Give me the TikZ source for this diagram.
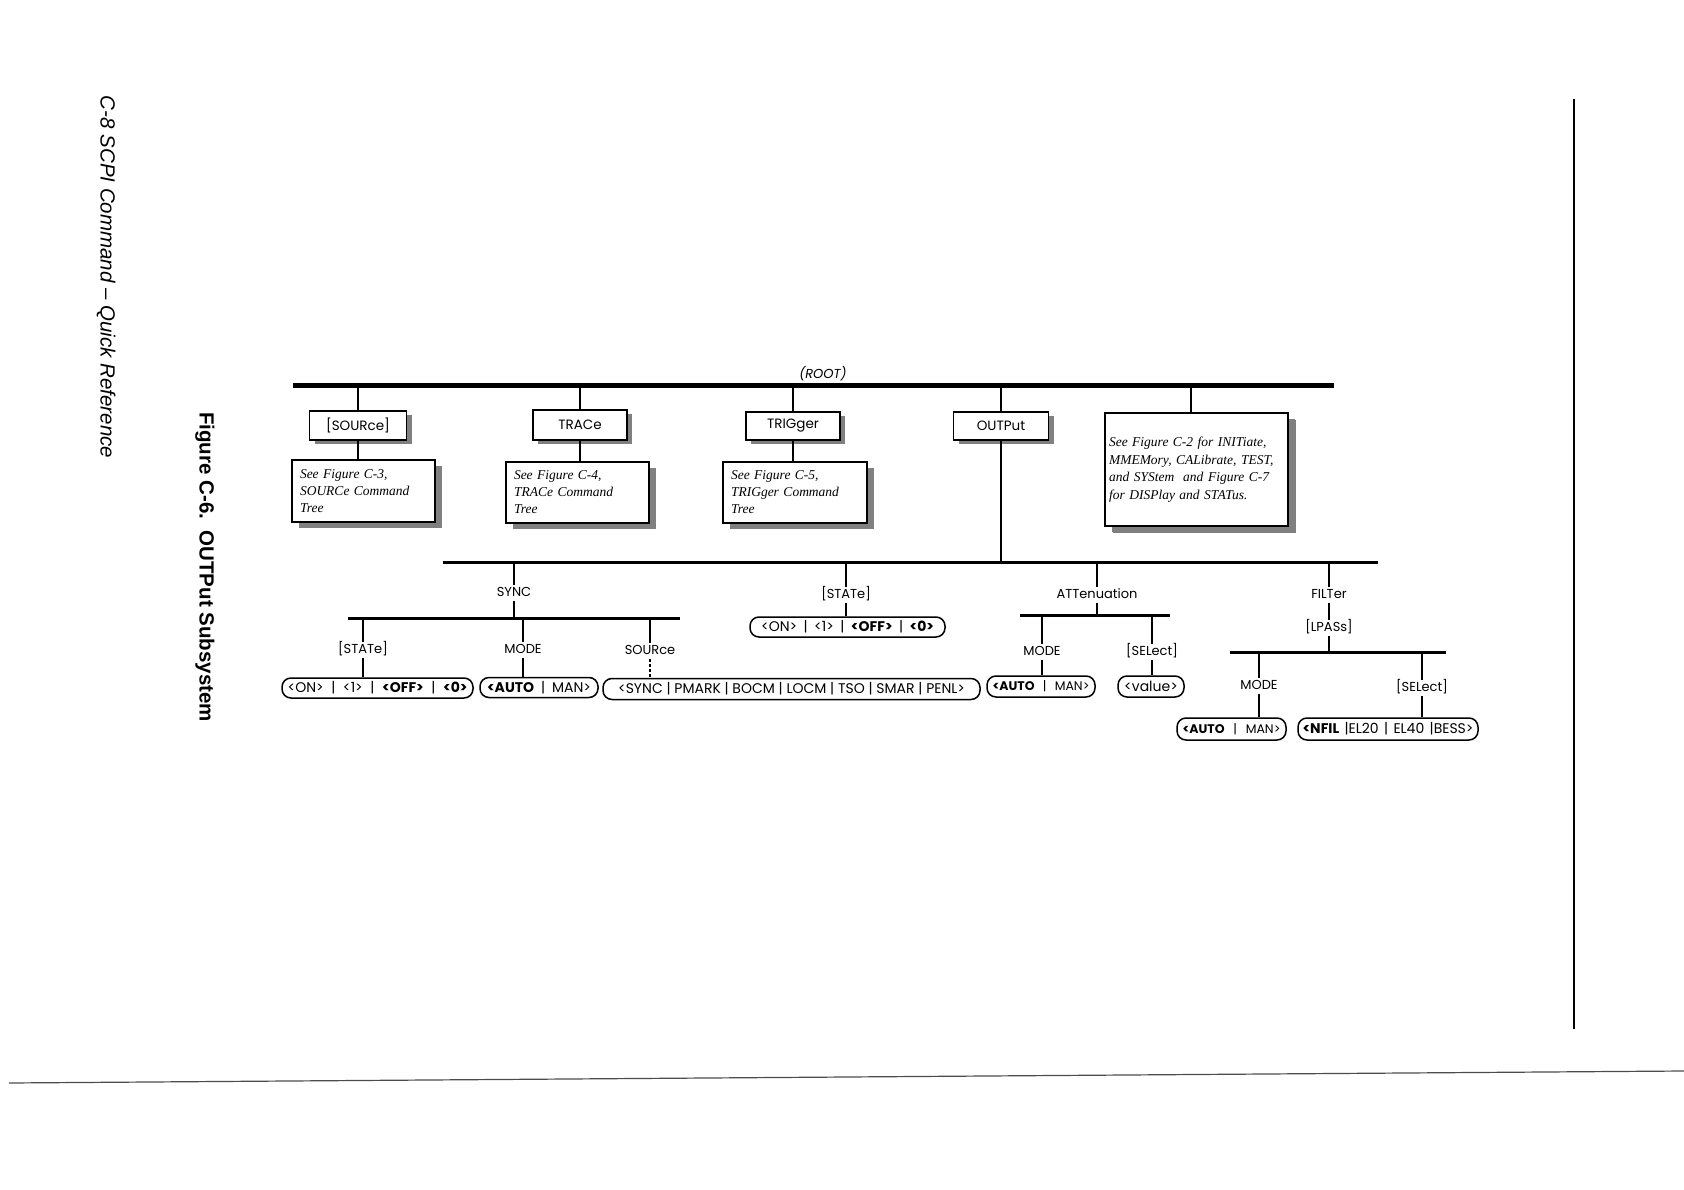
\documentclass[tikz,border=0pt]{standalone}
\usepackage{fontspec}
\setmainfont{Poppins}
\newfontfamily\itserif{Liberation Serif}
\newfontfamily\helv{Liberation Sans}
\usetikzlibrary{shadows}
\begin{document}
\begin{tikzpicture}[x=1pt,y=-1pt,
  lbl/.style={font=\fontsize{13}{15}\selectfont, inner sep=2pt, text height=9.5pt, text depth=2.5pt},
  cmdbox/.style={draw, line width=1.5pt, fill=white, font=\fontsize{13.5}{16}\selectfont, inner sep=0pt,
     drop shadow={shadow xshift=5pt, shadow yshift=-4pt, fill=black!50, opacity=1}},
  notebox/.style={draw, line width=1.5pt, fill=white, font=\itserif\itshape\fontsize{13.5}{17}\selectfont,
     align=left, inner sep=0pt,
     drop shadow={shadow xshift=7pt, shadow yshift=-6pt, fill=black!50, opacity=1}},
  pill/.style={draw, line width=1.5pt, rounded corners=9pt, inner sep=0pt, font=\fontsize{14}{16}\selectfont},
  smallpill/.style={pill, font=\fontsize{12.5}{15}\selectfont},
  conn/.style={line width=2.8pt},
  bar/.style={line width=3pt},
  rootbar/.style={line width=5pt},
]
\useasboundingbox[fill=white] (0,0) rectangle (1684,1190);

% page decorations
\node[font=\helv\itshape\fontsize{20.5}{24}\selectfont, rotate=-90] (hdr) at (106,277) {C-8 SCPI Command – Quick Reference};
\node[font=\helv\bfseries\fontsize{20.5}{24}\selectfont, rotate=-90] (cap) at (205,567) {Figure C-6.\ \ OUTPut Subsystem};
\draw[line width=2pt] (1574,99) -- (1574,1029);
\draw[line width=1.2pt, black!70] (9,1083) -- (1684,1071);

% root
\coordinate (rootL) at (293,385);
\coordinate (rootR) at (1334,385);
\draw[rootbar] (rootL) -- (rootR);
\node[font=\itshape\fontsize{13}{15}\selectfont, inner sep=1pt] (root) at (823,374) {(ROOT)};

% top level boxes
\node[cmdbox, minimum width=97pt, minimum height=29pt] (src) at (358,425.5) {[SOURce]};
\node[notebox, minimum width=143pt, minimum height=62pt, text width=127pt] (c3) at (363.5,491) {See Figure C-3,\\SOURCe Command\\Tree};
\node[cmdbox, minimum width=94pt, minimum height=30pt] (trc) at (580,425) {TRACe};
\node[notebox, minimum width=143pt, minimum height=61pt, text width=127pt] (c4) at (577.5,492.5) {See Figure C-4,\\TRACe Command\\Tree};
\node[cmdbox, minimum width=94pt, minimum height=28pt] (trg) at (793,426) {TRIGger};
\node[notebox, minimum width=144pt, minimum height=61pt, text width=128pt] (c5) at (795,492.5) {See Figure C-5,\\TRIGger Command\\Tree};
\node[cmdbox, minimum width=95pt, minimum height=28pt] (outp) at (1001,426) {OUTPut};
\node[notebox, font=\itserif\itshape\fontsize{13.5}{17.5}\selectfont, minimum width=183pt, minimum height=113pt, text width=175pt,
      drop shadow={shadow xshift=8pt, shadow yshift=-7pt, fill=black!50, opacity=1}] (big) at (1196.5,469.5)
  {See Figure C-2 for INITiate,\\MMEMory, CALibrate, TEST,\\and SYStem\ \ and Figure C-7\\for DISPlay and STATus.};

\draw[conn] (src.north |- rootL) -- (src.north);
\draw[conn] (src.south) -- (src.south |- c3.north);
\draw[conn] (trc.north |- rootL) -- (trc.north);
\draw[conn] (trc.south) -- (trc.south |- c4.north);
\draw[conn] (trg.north |- rootL) -- (trg.north);
\draw[conn] (trg.south) -- (trg.south |- c5.north);
\draw[conn] (outp.north |- rootL) -- (outp.north);
\draw[conn] ([xshift=-5.5pt]big.north |- rootL) -- ([xshift=-5.5pt]big.north);

% OUTPut bar
\coordinate (obL) at (443,562);
\coordinate (obR) at (1378,562);
\draw[bar] (obL) -- (obR);
\draw[conn] (outp.south) -- (outp.south |- obL);

% SYNC
\node[lbl] (sync) at (514,593) {SYNC};
\coordinate (sbL) at (348,618);
\coordinate (sbR) at (680,618);
\draw[bar] (sbL) -- (sbR);
\draw[conn] (sync.north |- obL) -- (sync.north);
\draw[conn] (sync.south) -- (sync.south |- sbL);

\node[lbl] (sst) at (363,650) {[STATe]};
\node[lbl] (smode) at (523,650) {MODE};
\node[lbl] (ssrc) at (650,651) {SOURce};
\draw[conn] (sst.north |- sbL) -- (sst.north);
\draw[conn] (smode.north |- sbL) -- (smode.north);
\draw[conn] (ssrc.north |- sbL) -- (ssrc.north);

\node[pill, minimum width=191pt, minimum height=20pt] (p1) at (377.5,688)
  {\hbox to 180pt{<ON>\hfil|\hfil<1>\hfil|\hfil\textbf{<OFF>}\hfil|\hfil\textbf{<0>}}};
\node[pill, minimum width=118pt, minimum height=20pt] (p2) at (539,687.5)
  {\hbox to 104pt{\textbf{<AUTO}\hfil|\hfil MAN>}};
\node[pill, minimum width=377pt, minimum height=21pt] (p3) at (791.5,689)
  {\hbox to 347pt{<SYNC\hfil|\hfil PMARK\hfil|\hfil BOCM\hfil|\hfil LOCM\hfil|\hfil TSO\hfil|\hfil SMAR\hfil|\hfil PENL>}};
\draw[conn] (sst.south) -- (sst.south |- p1.north);
\draw[conn] (smode.south) -- (smode.south |- p2.north);
\draw[line width=2pt, densely dashed] (ssrc.south) -- (ssrc.south |- p3.north);

% OUTPut STATe
\node[lbl] (ost) at (846,595) {[STATe]};
\node[pill, minimum width=195pt, minimum height=20pt] (p4) at (847.5,627)
  {\hbox to 173pt{<ON>\hfil|\hfil<1>\hfil|\hfil\textbf{<OFF>}\hfil|\hfil\textbf{<0>}}};
\draw[conn] (ost.north |- obL) -- (ost.north);
\draw[conn] (ost.south) -- (ost.south |- p4.north);

% ATTenuation
\node[lbl] (att) at (1097,595) {ATTenuation};
\coordinate (abL) at (1020,615);
\coordinate (abR) at (1170,615);
\draw[bar] (abL) -- (abR);
\draw[conn] (att.north |- obL) -- (att.north);
\draw[conn] (att.south) -- (att.south |- abL);
\node[lbl] (amode) at (1042,652) {MODE};
\node[lbl] (asel) at (1152,652) {[SELect]};
\draw[conn] (amode.north |- abL) -- (amode.north);
\draw[conn] (asel.north |- abL) -- (asel.north);
\node[smallpill, minimum width=108pt, minimum height=21pt] (p5) at (1041,686.5)
  {\hbox to 97pt{\textbf{<AUTO}\hfil|\hfil MAN>}};
\node[pill, minimum width=66pt, minimum height=21pt] (p6) at (1151,686.5)
  {\hbox to 57pt{\hfil<value>\hfil}};
\draw[conn] (amode.south) -- (amode.south |- p5.north);
\draw[conn] (asel.south) -- (asel.south |- p6.north);

% FILTer
\node[lbl] (filt) at (1329,595) {FILTer};
\node[lbl] (lpass) at (1329,628) {[LPASs]};
\coordinate (fbL) at (1230,652);
\coordinate (fbR) at (1446,652);
\draw[bar] (fbL) -- (fbR);
\draw[conn] (filt.north |- obL) -- (filt.north);
\draw[conn] (filt.south) -- (lpass.north);
\draw[conn] (lpass.south) -- (lpass.south |- fbL);
\node[lbl] (fmode) at (1259,686) {MODE};
\node[lbl] (fsel) at (1422,688) {[SELect]};
\draw[conn] (fmode.north |- fbL) -- (fmode.north);
\draw[conn] (fsel.north |- fbL) -- (fsel.north);
\node[smallpill, minimum width=109pt, minimum height=22pt] (p7) at (1231.5,729)
  {\hbox to 98pt{\textbf{<AUTO}\hfil|\hfil MAN>}};
\node[pill, minimum width=180pt, minimum height=22pt] (p8) at (1388,729)
  {\hbox to 171pt{\textbf{<NFIL}\hfil|EL20\hfil|\hfil EL40\hfil|BESS>}};
\draw[conn] (fmode.south) -- (fmode.south |- p7.north);
\draw[line width=2pt] (fsel.south) -- (fsel.south |- p8.north);
\end{tikzpicture}
\end{document}
